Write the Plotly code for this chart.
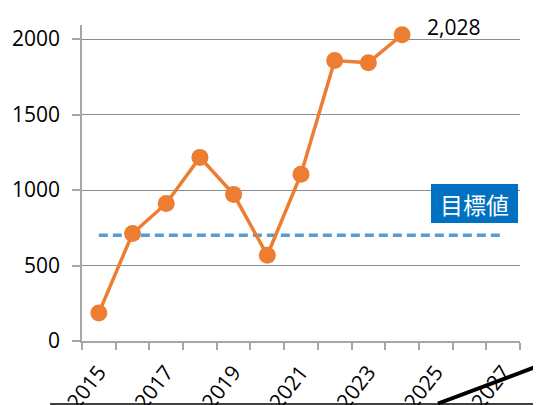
import plotly.graph_objects as go

# ---- data ----
years = [2015, 2016, 2017, 2018, 2019, 2020, 2021, 2022, 2023, 2024]
values = [186, 712, 911, 1216, 971, 568, 1105, 1857, 1843, 2028]
target_years = list(range(2015, 2028))
target_values = [700] * len(target_years)
label_years = [2015, 2017, 2019, 2021, 2023, 2025, 2027]
label_text = [str(y) for y in label_years]
y_ticks = [0, 500, 1000, 1500, 2000]
target_label = "目標値"

OFF = 8  # page body margin
W, H = 541 - OFF, 405 - OFF
L, R, T, B = 82 - OFF, 520 - OFF, 25 - OFF, 341 - OFF  # plot area in figure px

fig = go.Figure()
fig.add_trace(go.Scatter(
    x=target_years, y=target_values, mode="lines",
    line=dict(color="#5B9BD5", width=3.5, dash="9px,5px"),
    hoverinfo="skip", showlegend=False))
fig.add_trace(go.Scatter(
    x=years, y=values, mode="lines+markers",
    line=dict(color="#ED7D31", width=3.5),
    marker=dict(color="#ED7D31", size=17),
    showlegend=False))

fig.add_annotation(x=years[-1], y=values[-1], xref="x", yref="y",
                   text=f"{values[-1]:,}", showarrow=False,
                   xanchor="left", yanchor="middle", xshift=23, yshift=8,
                   font=dict(family="Open Sans", size=21, color="#000000"))


def px_x(px):
    return (px - OFF - L) / (R - L)


def px_y(py):
    return (B - (py - OFF)) / (B - T)


fig.add_annotation(x=px_x(474.5), y=px_y(203.4),
                   xref="paper", yref="paper", text=target_label,
                   showarrow=False, xanchor="center", yanchor="middle",
                   bgcolor="#0070C0", borderpad=2, borderwidth=0,
                   width=83, height=35,
                   font=dict(family="Noto Sans CJK JP", size=23, color="#FFFFFF"))

# cropping artefacts at bottom of the reference
fig.add_shape(type="line", xref="paper", yref="paper",
              x0=px_x(50), y0=px_y(404), x1=px_x(545), y1=px_y(404),
              line=dict(color="#000000", width=1.5))
fig.add_shape(type="line", xref="paper", yref="paper",
              x0=px_x(438), y0=px_y(403.5), x1=px_x(545), y1=px_y(363.5),
              line=dict(color="#000000", width=4))

y_top = 2000 * (341 - 25) / (341 - 39)

fig.update_layout(
    width=W, height=H,
    margin=dict(l=L, r=W - R, t=T, b=H - B, autoexpand=False),
    paper_bgcolor="white", plot_bgcolor="white",
    xaxis=dict(
        range=[2014.5, 2027.5], tickmode="array", tickvals=label_years,
        ticktext=label_text, tickangle=-52, ticks="",
        showgrid=False, zeroline=False, showline=True,
        linecolor="#A6A6A6", linewidth=1.5,
        tickfont=dict(family="Open Sans", size=21, color="#000000"),
        ticklabelstandoff=9,
        minor=dict(tick0=2014.5, dtick=1, ticks="outside", ticklen=7,
                   tickcolor="#A6A6A6", tickwidth=1.5, showgrid=False),
    ),
    yaxis=dict(
        range=[0, y_top], tickmode="array", tickvals=y_ticks,
        ticks="outside", ticklen=8, tickcolor="#A6A6A6", tickwidth=1.5,
        showgrid=True, gridcolor="#8C8C8C", gridwidth=1.2,
        zeroline=False, showline=True, linecolor="#A6A6A6", linewidth=1.5,
        tickfont=dict(family="Open Sans", size=21, color="#000000"),
        ticklabelstandoff=8,
    ),
)

fig.write_html("out.html")
